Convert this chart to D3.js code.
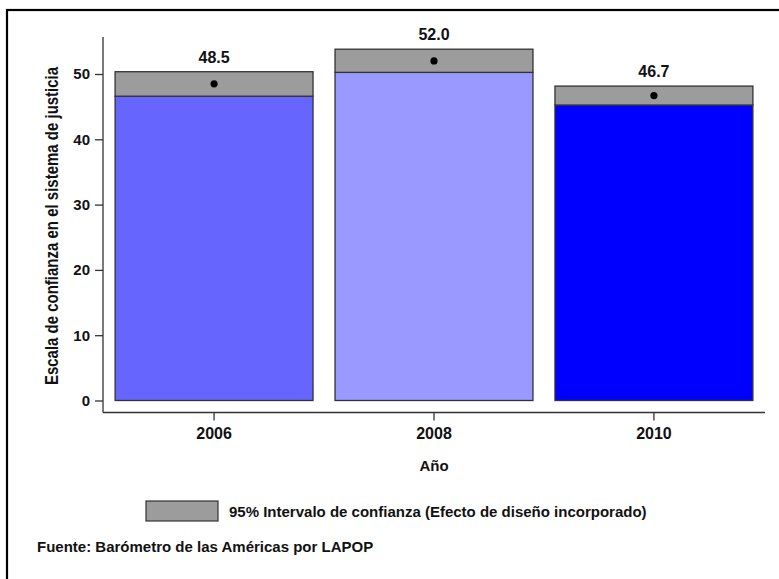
<!DOCTYPE html>
<html>
<head>
<meta charset="utf-8">
<script src="https://cdn.jsdelivr.net/npm/d3@7"></script>
<style>
  html, body { margin: 0; padding: 0; background: #fff; }
  svg { display: block; }
  text { font-family: "Liberation Sans", Arial, sans-serif; font-weight: bold; fill: #111; }
</style>
</head>
<body>
<svg id="chart" width="779" height="579"></svg>
<script>
// Confidence in the justice system, by survey year
const years = ["2006", "2008", "2010"];
const means = [48.5, 52.0, 46.7];
const ciLower = [46.6, 50.25, 45.25];
const ciUpper = [50.35, 53.8, 48.15];
const barColors = ["#6666ff", "#9999ff", "#0000ff"];
const yTicks = [0, 10, 20, 30, 40, 50];

const svg = d3.select("#chart");

// outer frame (runs past the right and bottom edges)
svg.append("rect")
  .attr("x", 7).attr("y", 10)
  .attr("width", 800).attr("height", 600)
  .attr("fill", "none").attr("stroke", "#000").attr("stroke-width", 2.2);

const x = d3.scaleBand()
  .domain(years)
  .range([103, 765])
  .paddingInner(0.1)
  .paddingOuter(0.055);

const y = d3.scaleLinear()
  .domain([0, 50])
  .range([400.5, 74]);

const data = years.map((yr, i) => ({
  year: yr, mean: means[i], lo: ciLower[i], hi: ciUpper[i], color: barColors[i]
}));

const bars = svg.append("g");

// coloured part: zero up to the lower bound
bars.selectAll("rect.base")
  .data(data).join("rect")
  .attr("class", "base")
  .attr("x", d => x(d.year))
  .attr("y", d => y(d.lo))
  .attr("width", x.bandwidth())
  .attr("height", d => y(0) - y(d.lo))
  .attr("fill", d => d.color)
  .attr("stroke", "#333").attr("stroke-width", 1.3);

// grey confidence band
bars.selectAll("rect.ci")
  .data(data).join("rect")
  .attr("class", "ci")
  .attr("x", d => x(d.year))
  .attr("y", d => y(d.hi))
  .attr("width", x.bandwidth())
  .attr("height", d => y(d.lo) - y(d.hi))
  .attr("fill", "#9c9c9c")
  .attr("stroke", "#333").attr("stroke-width", 1.3);

// point estimates
bars.selectAll("circle")
  .data(data).join("circle")
  .attr("cx", d => x(d.year) + x.bandwidth() / 2)
  .attr("cy", d => y(d.mean))
  .attr("r", 3.6)
  .attr("fill", "#000");

// value labels
bars.selectAll("text.val")
  .data(data).join("text")
  .attr("class", "val")
  .attr("x", d => x(d.year) + x.bandwidth() / 2)
  .attr("y", d => y(d.hi) - 9)
  .attr("text-anchor", "middle")
  .style("font-size", "16px")
  .text(d => d.mean.toFixed(1));

// y axis
const yAxis = svg.append("g")
  .attr("transform", "translate(103,0)")
  .call(d3.axisLeft(y).tickValues(yTicks).tickSize(8).tickPadding(5));
yAxis.select(".domain").attr("d", "M0,37V412.5");
yAxis.selectAll("line, path").attr("stroke", "#333").attr("stroke-width", 1.3);
yAxis.selectAll("text").style("font-size", "15px").style("font-family", null).attr("fill", "#111");

// x axis
const xAxis = svg.append("g")
  .attr("transform", "translate(0,412.5)")
  .call(d3.axisBottom(x).tickSize(8).tickPadding(7).tickSizeOuter(0));
xAxis.select(".domain").attr("d", "M103,0H765");
xAxis.selectAll("line, path").attr("stroke", "#333").attr("stroke-width", 1.3);
xAxis.selectAll("text").style("font-size", "16px").style("font-family", null).attr("fill", "#111");

// axis titles
svg.append("text")
  .attr("x", 434).attr("y", 470.5)
  .attr("text-anchor", "middle")
  .style("font-size", "15px")
  .text("Año");

svg.append("text")
  .attr("transform", "translate(57.5,226) rotate(-90) scale(1,1.22)")
  .attr("text-anchor", "middle")
  .style("font-size", "15px")
  .text("Escala de confianza en el sistema de justicia");

// legend
svg.append("rect")
  .attr("x", 146).attr("y", 501)
  .attr("width", 72).attr("height", 20)
  .attr("fill", "#9c9c9c").attr("stroke", "#333").attr("stroke-width", 1.2);
svg.append("text")
  .attr("x", 229).attr("y", 517)
  .style("font-size", "15px")
  .text("95% Intervalo de confianza (Efecto de diseño incorporado)");

// source note
svg.append("text")
  .attr("x", 37).attr("y", 551.5)
  .style("font-size", "15px")
  .text("Fuente: Barómetro de las Américas por LAPOP");
</script>
</body>
</html>
